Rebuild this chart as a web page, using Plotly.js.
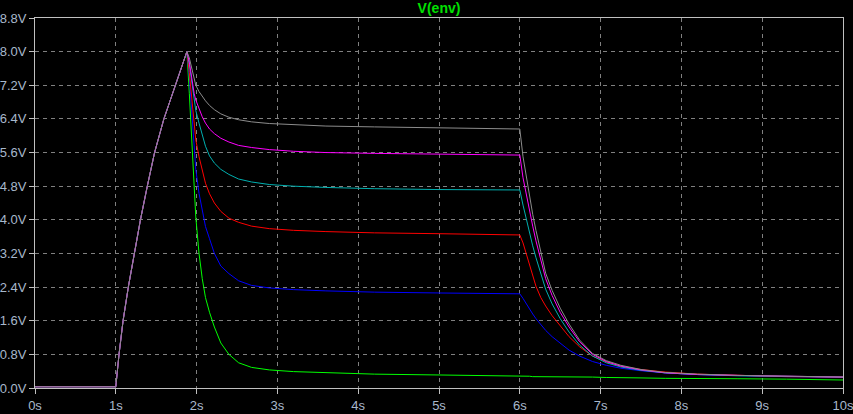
<!DOCTYPE html>
<html>
<head>
<meta charset="utf-8">
<script src="https://cdn.plot.ly/plotly-3.0.1.min.js"></script>
<style>html,body{margin:0;padding:0;background:#000;}#chart{width:853px;height:414px;}</style>
</head>
<body>
<div id="chart"></div>
<script>
// Shared rising ramp (all six traces overlap here)
var tRise = [0, 1.0, 1.04, 1.09, 1.155, 1.23, 1.305, 1.39, 1.48, 1.595, 1.735, 1.88];
var vRise = [0.03, 0.03, 0.8, 1.6, 2.4, 3.2, 4.0, 4.8, 5.6, 6.4, 7.2, 8.0];

// Decay after the peak, up to 6 s
var tDecay = [1.91, 1.93, 1.95, 1.97, 1.99, 2.03, 2.07, 2.11, 2.16, 2.22, 2.3, 2.4, 2.52, 2.68, 2.9, 3.2, 3.6, 4.2, 5.0, 6.0];
var greenDecay   = [7.0, 6.3, 5.66, 4.8, 4.07, 3.2, 2.6, 2.15, 1.8, 1.45, 1.07, 0.8, 0.6, 0.49, 0.43, 0.39, 0.36, 0.33, 0.31, 0.29];
var blueDecay    = [7.4, 6.8, 6.2, 5.66, 5.2, 4.63, 4.2, 3.84, 3.55, 3.2, 2.9, 2.72, 2.55, 2.44, 2.38, 2.34, 2.31, 2.28, 2.26, 2.24];
var redDecay     = [7.5, 7.1, 6.6, 6.2, 5.9, 5.5, 5.15, 4.87, 4.62, 4.4, 4.2, 4.04, 3.94, 3.85, 3.79, 3.75, 3.72, 3.69, 3.67, 3.64];
var cyanDecay    = [7.7, 7.4, 7.15, 6.85, 6.6, 6.3, 6.0, 5.75, 5.52, 5.35, 5.2, 5.08, 4.97, 4.9, 4.84, 4.8, 4.77, 4.74, 4.72, 4.71];
var magentaDecay = [7.75, 7.5, 7.2, 7.0, 6.85, 6.65, 6.45, 6.3, 6.16, 6.05, 5.94, 5.85, 5.77, 5.72, 5.67, 5.63, 5.6, 5.58, 5.56, 5.54];
var grayDecay    = [7.85, 7.7, 7.5, 7.35, 7.2, 7.05, 6.93, 6.83, 6.72, 6.62, 6.52, 6.44, 6.38, 6.33, 6.29, 6.26, 6.23, 6.21, 6.19, 6.16];

// Release after 6 s
var tTail = [6.04, 6.08, 6.12, 6.16, 6.2, 6.26, 6.32, 6.4, 6.5, 6.61, 6.74, 6.9, 7.07, 7.25, 7.5, 7.8, 8.2, 8.7, 9.3, 10];
var greenTail   = [0.29, 0.29, 0.28, 0.27, 0.27, 0.27, 0.27, 0.27, 0.26, 0.26, 0.26, 0.26, 0.25, 0.25, 0.24, 0.23, 0.23, 0.22, 0.21, 0.19];
var blueTail    = [2.13, 2.0, 1.88, 1.76, 1.65, 1.5, 1.37, 1.22, 1.06, 0.9, 0.76, 0.63, 0.54, 0.47, 0.41, 0.36, 0.32, 0.29, 0.27, 0.25];
var redTail     = [3.45, 3.2, 2.9, 2.65, 2.42, 2.15, 1.95, 1.72, 1.47, 1.22, 0.98, 0.76, 0.62, 0.52, 0.44, 0.38, 0.33, 0.3, 0.27, 0.26];
var cyanTail    = [4.35, 4.0, 3.68, 3.38, 3.1, 2.7, 2.35, 2.0, 1.65, 1.33, 1.02, 0.76, 0.6, 0.5, 0.42, 0.36, 0.32, 0.29, 0.27, 0.26];
var magentaTail = [5.0, 4.6, 4.2, 3.85, 3.5, 3.02, 2.6, 2.2, 1.8, 1.45, 1.1, 0.8, 0.63, 0.52, 0.43, 0.36, 0.32, 0.3, 0.28, 0.26];
var grayTail    = [5.5, 5.03, 4.55, 4.13, 3.75, 3.2, 2.73, 2.32, 1.9, 1.52, 1.14, 0.82, 0.65, 0.54, 0.44, 0.37, 0.33, 0.3, 0.28, 0.26];

var seriesNames  = ['green', 'blue', 'red', 'cyan', 'magenta', 'gray'];
var seriesColors = ['#00ff00', '#0000ff', '#ff0000', '#00b0b0', '#ff00ff', '#8c8c8c'];
var decays = [greenDecay, blueDecay, redDecay, cyanDecay, magentaDecay, grayDecay];
var tails  = [greenTail, blueTail, redTail, cyanTail, magentaTail, grayTail];

var tAll = tRise.concat(tDecay, tTail);
var traces = seriesNames.map(function (n, i) {
  return {
    x: tAll,
    y: vRise.concat(decays[i], tails[i]),
    type: 'scatter',
    mode: 'lines',
    name: n,
    line: {color: seriesColors[i], width: 1},
    hoverinfo: 'skip'
  };
});

var tickFont = {family: '"Liberation Sans", Arial, sans-serif', size: 13, color: '#a8b8cc'};
var axisCommon = {
  showline: true, mirror: true, linecolor: '#c0c0c0', linewidth: 1,
  showgrid: true, gridcolor: '#808080', gridwidth: 1, griddash: '4px,4px',
  zeroline: false, ticks: 'outside', ticklen: 5, tickcolor: '#c0c0c0', tickwidth: 1,
  tickfont: tickFont, fixedrange: true, ticklabeloverflow: 'allow'
};

var layout = {
  width: 853, height: 414,
  paper_bgcolor: '#000000', plot_bgcolor: '#000000',
  margin: {l: 35, r: 10, t: 18, b: 26},
  showlegend: false,
  title: {
    text: '<b>V(env)</b>',
    font: {family: '"Liberation Sans", Arial, sans-serif', size: 14, color: '#00e000'},
    x: 0.5, xref: 'paper', xanchor: 'center',
    y: 1 - 8 / 414, yref: 'container', yanchor: 'middle'
  },
  xaxis: Object.assign({}, axisCommon, {
    range: [0, 10], tick0: 0, dtick: 1, ticksuffix: 's'
  }),
  yaxis: Object.assign({}, axisCommon, {
    range: [0, 8.8], tick0: 0, dtick: 0.8, tickformat: '.1f', ticksuffix: 'V'
  })
};

Plotly.newPlot('chart', traces, layout, {displayModeBar: false, staticPlot: true});
</script>
</body>
</html>
